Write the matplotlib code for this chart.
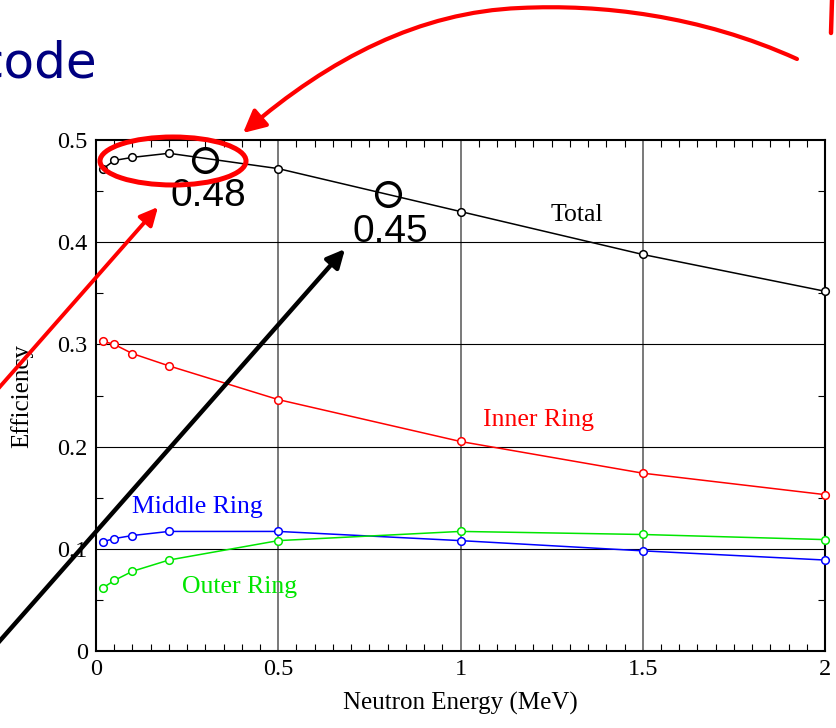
import numpy as np
import matplotlib
matplotlib.use("Agg")
import matplotlib.pyplot as plt
from matplotlib.patches import Ellipse, FancyArrowPatch
from matplotlib.path import Path
from matplotlib.ticker import MultipleLocator

# -----------------------------
# data
# -----------------------------
energy = [0.02, 0.05, 0.1, 0.2, 0.5, 1.0, 1.5, 2.0]
total = [0.472, 0.480, 0.483, 0.487, 0.472, 0.430, 0.388, 0.352]
inner = [0.303, 0.300, 0.291, 0.279, 0.246, 0.205, 0.174, 0.153]
middle = [0.107, 0.110, 0.113, 0.117, 0.117, 0.108, 0.098, 0.089]
outer = [0.062, 0.069, 0.078, 0.089, 0.108, 0.117, 0.114, 0.109]

series_names = ["Total", "Inner Ring", "Middle Ring", "Outer Ring"]
series_colors = ["black", "#ff0000", "#0000ff", "#00e600"]
label_pos = [(1.32, 0.421), (1.215, 0.220), (0.278, 0.135), (0.395, 0.057)]

mark_x = [0.3, 0.8]
mark_y = [0.480, 0.447]
mark_text = ["0.48", "0.45"]
mark_text_pos = [(0.307, 0.445), (0.807, 0.410)]

xticks = [0, 0.5, 1, 1.5, 2]
xtick_labels = ["0", "0.5", "1", "1.5", "2"]
yticks = [0, 0.1, 0.2, 0.3, 0.4, 0.5]
ytick_labels = ["0", "0.1", "0.2", "0.3", "0.4", "0.5"]

serif = "Liberation Serif"

W, H = 836, 728
fig = plt.figure(figsize=(W / 100, H / 100), dpi=100)
ax = fig.add_axes([96 / W, 1 - 651 / H, (825 - 96) / W, (651 - 140) / H])

# grid first, under the curves
for xv in xticks[1:-1]:
    ax.axvline(xv, color="#555555", lw=1.1, zorder=1)
for yv in yticks[1:-1]:
    ax.axhline(yv, color="black", lw=0.8, zorder=1)

for ys, name, c, (lx, ly) in zip([total, inner, middle, outer], series_names,
                                 series_colors, label_pos):
    ax.plot(energy, ys, color=c, lw=1.1, marker="o", ms=5.5, mew=1.1,
            mfc="white", mec=c, clip_on=False, zorder=3)
    ax.text(lx, ly, name, color=c, fontsize=18.5, family=serif,
            ha="center", va="baseline")

# highlighted values
ax.plot(mark_x, mark_y, ls="none", marker="o", ms=17, mew=2.5,
        mfc="none", mec="black", zorder=4)
for t, (tx, ty) in zip(mark_text, mark_text_pos):
    ax.text(tx, ty, t, fontsize=28, family="Liberation Sans",
            ha="center", va="center", zorder=5)

ax.set_xlim(0, 2)
ax.set_ylim(0, 0.5)
ax.set_xticks(xticks, xtick_labels)
ax.set_yticks(yticks, ytick_labels)
ax.xaxis.set_minor_locator(MultipleLocator(0.05))
ax.yaxis.set_minor_locator(MultipleLocator(0.05))
ax.tick_params(which="both", direction="in", top=True, right=True,
               labelsize=17.5, pad=6)
ax.tick_params(which="major", length=0)
ax.tick_params(which="minor", length=5, width=0.8)
for lab in ax.get_xticklabels() + ax.get_yticklabels():
    lab.set_family(serif)
for sp in ax.spines.values():
    sp.set_linewidth(1.5)
ax.set_xlabel("Neutron Energy (MeV)", fontsize=18, family=serif, labelpad=8)
ax.set_ylabel("Efficiency", fontsize=18, family=serif, labelpad=17)

# -----------------------------
# slide decorations, pixel coords
# -----------------------------
ov = fig.add_axes([0, 0, 1, 1], zorder=10)
ov.set_xlim(0, W)
ov.set_ylim(H, 0)
ov.axis("off")
ov.patch.set_alpha(0)

ov.text(97, 77, "code", color="#000080", fontsize=36, family="DejaVu Sans",
        ha="right", va="baseline")

# red stroke at top right corner
ov.plot([832, 831], [0, 33], color="red", lw=3.2, solid_capstyle="round")

# big curved arrow
verts = [(797, 59), (700, 15), (600, 4), (520, 8),
         (420, 12), (330, 58), (243, 133)]
codes = [Path.MOVETO, Path.CURVE4, Path.CURVE4, Path.CURVE4,
         Path.CURVE4, Path.CURVE4, Path.CURVE4]
ov.add_patch(FancyArrowPatch(path=Path(verts, codes),
                             arrowstyle="-|>,head_length=0.5,head_width=0.25",
                             mutation_scale=27, lw=3.0, color="red"))

ov.add_patch(Ellipse((173, 161), 146, 48, fill=False, ec="red", lw=3.6))

ov.add_patch(FancyArrowPatch((-10, 398), (158, 207),
                             arrowstyle="-|>,head_length=0.45,head_width=0.22",
                             mutation_scale=24, lw=2.8, color="red",
                             shrinkA=0, shrinkB=0))
ov.add_patch(FancyArrowPatch((-10, 652), (345, 249),
                             arrowstyle="-|>,head_length=0.45,head_width=0.22",
                             mutation_scale=24, lw=3.2, color="black",
                             shrinkA=0, shrinkB=0))

fig.savefig("out.png", dpi=100)
